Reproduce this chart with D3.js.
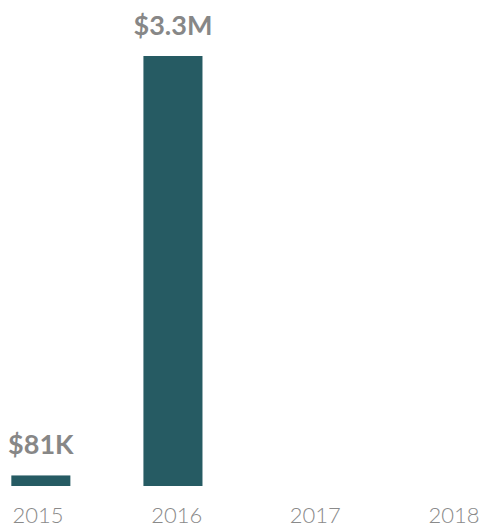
<!DOCTYPE html>
<html><head><meta charset="utf-8">
<script src="https://cdn.jsdelivr.net/npm/d3@7"></script>
<style>body{margin:0;background:#fff}svg{display:block}</style>
</head><body>
<svg id="c" width="480" height="528"></svg>
<script>
const years = ["2015", "2016", "2017", "2018"];
const values = [81000, 3300000, null, null];
const valueLabels = ["$81K", "$3.3M", "", ""];

const svg = d3.select("#c");
const x = d3.scaleBand().domain(years).range([-25, 503]).paddingInner(0.553).paddingOuter(0.275);
const xLab = d3.scalePoint().domain(years).range([38, 454]);
const y = d3.scaleLinear().domain([0, 3300000]).range([486, 56]);

const data = years.map((yr, i) => ({yr, v: values[i], lab: valueLabels[i]})).filter(d => d.v != null);

svg.selectAll("rect.bar").data(data).join("rect")
  .attr("class", "bar")
  .attr("x", d => x(d.yr))
  .attr("width", x.bandwidth())
  .attr("y", d => Math.min(y(d.v), 477))
  .attr("height", d => 486 - Math.min(y(d.v), 477))
  .attr("fill", "#265b63");

svg.selectAll("text.val").data(data).join("text")
  .attr("class", "val")
  .attr("x", d => x(d.yr) + x.bandwidth() / 2)
  .attr("y", d => Math.min(y(d.v), 477) - 21)
  .attr("text-anchor", "middle")
  .attr("font-family", "Lato, sans-serif")
  .attr("font-weight", "bold")
  .attr("font-size", 27)
  .attr("fill", "#878787")
  .text(d => d.lab);

svg.selectAll("text.yr").data(years).join("text")
  .attr("class", "yr")
  .attr("x", d => xLab(d))
  .attr("y", 523)
  .attr("text-anchor", "middle")
  .attr("font-family", "Lato, sans-serif")
  .attr("font-weight", 300)
  .attr("font-size", 22)
  .attr("fill", "#8a8a8a")
  .text(d => d);
</script>
</body></html>
